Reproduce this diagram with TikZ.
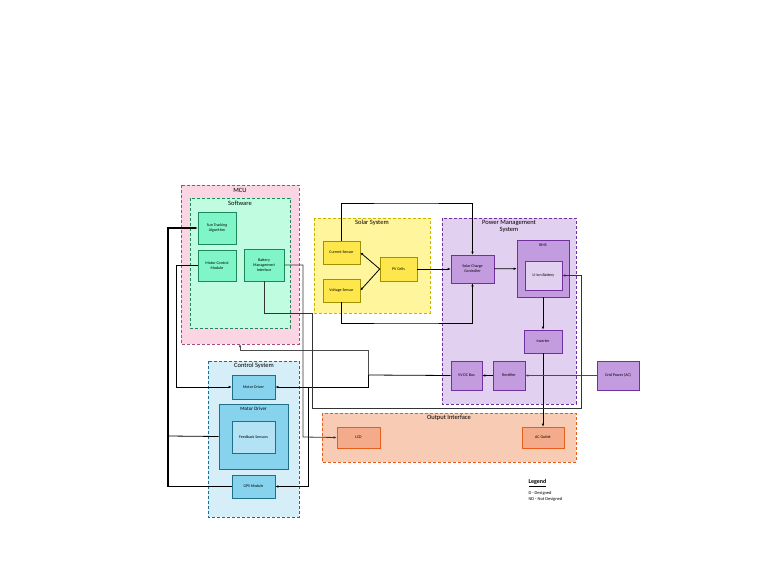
\documentclass[tikz,border=0pt]{standalone}
\usepackage{fontspec}
\setmainfont{Carlito}
\usetikzlibrary{arrows.meta}
\definecolor{mcufill}{HTML}{FCD5E5}\definecolor{mculine}{HTML}{A64D79}
\definecolor{swfill}{HTML}{C0FCE0}\definecolor{swline}{HTML}{1A8A5A}\definecolor{swnode}{HTML}{7FF5C8}
\definecolor{solfill}{HTML}{FFF59D}\definecolor{solline}{HTML}{C9B400}\definecolor{solnode}{HTML}{FDE74C}
\definecolor{pmfill}{HTML}{E1D0F0}\definecolor{pmline}{HTML}{7030A0}\definecolor{pmnode}{HTML}{C39BDF}
\definecolor{csfill}{HTML}{D6EEF8}\definecolor{csline}{HTML}{1F6F8B}\definecolor{csnode}{HTML}{87D3EE}\definecolor{csinner}{HTML}{B3E2F5}
\definecolor{oifill}{HTML}{F8CBB4}\definecolor{oiline}{HTML}{E85D1A}\definecolor{oinode}{HTML}{F4AB8B}
\tikzset{
  group/.style={draw=#1, densely dashed, line width=0.6pt},
  blk/.style={draw, line width=0.6pt, align=center, font=\fontsize{4}{5}\selectfont, inner sep=1pt},
  title/.style={font=\fontsize{6.5}{7.5}\selectfont, align=center},
  wire/.style={line width=0.8pt, -{Latex[length=3pt,width=2.5pt]}},
}
\begin{document}
\begin{tikzpicture}[x=1pt,y=-1pt]
\useasboundingbox (0,0) rectangle (768,588);
% groups
\draw[group=mculine, fill=mcufill] (181,185) rectangle (299,344);
\node[title] (mcut) at (240,190) {MCU};
\draw[group=swline, fill=swfill] (190,198) rectangle (290,328);
\node[title] (swt) at (240,203) {Software};
\draw[group=solline, fill=solfill] (314,218) rectangle (430,313);
\node[title] (solt) at (372,223) {Solar System};
\draw[group=pmline, fill=pmfill] (442,218) rectangle (576,404);
\node[title, font=\fontsize{6.5}{7}\selectfont] (pmt) at (509,226) {Power Management\\System};
\draw[group=csline, fill=csfill] (208,361) rectangle (299,517);
\node[title] (cst) at (254,366) {Control System};
\draw[group=oiline, fill=oifill] (322,413) rectangle (576,462);
\node[title] (oit) at (449,418) {Output Interface};
% software blocks
\node[blk, draw=swline, fill=swnode, minimum width=38, minimum height=32] (sun) at (217,228) {Sun Tracking\\Algorithm};
\node[blk, draw=swline, fill=swnode, minimum width=38, minimum height=31] (mcm) at (217,265.5) {Motor Control\\Module};
\node[blk, draw=swline, fill=swnode, minimum width=40, minimum height=32] (bmi) at (264,265) {Battery\\Management\\Interface};
% solar blocks
\node[blk, draw=solline!80!black, fill=solnode, minimum width=37, minimum height=23] (cur) at (341.5,252.5) {Current Sensor};
\node[blk, draw=solline!80!black, fill=solnode, minimum width=37, minimum height=23] (vol) at (341.5,290.5) {Voltage Sensor};
\node[blk, draw=solline!80!black, fill=solnode, minimum width=37, minimum height=24] (pv) at (398.5,269) {PV Cells};
% power management
\node[blk, draw=pmline, fill=pmnode, minimum width=43, minimum height=28] (scc) at (472.5,269) {Solar Charge\\Controller};
\node[blk, draw=pmline, fill=pmnode, minimum width=52, minimum height=57] (bms) at (543,268.5) {};
\node[font=\fontsize{4}{5}\selectfont] (bmst) at (543,245) {BMS};
\node[blk, draw=pmline, fill=pmfill, minimum width=37, minimum height=29] (lib) at (543.5,275.5) {Li-ion Battery};
\node[blk, draw=pmline, fill=pmnode, minimum width=38, minimum height=23] (inv) at (543,341.5) {Inverter};
\node[blk, draw=pmline, fill=pmnode, minimum width=31, minimum height=29] (dc) at (466.5,375.5) {5V DC Bus};
\node[blk, draw=pmline, fill=pmnode, minimum width=32, minimum height=29] (rec) at (509,375.5) {Rectifier};
\node[blk, draw=pmline, fill=pmnode, minimum width=42, minimum height=29] (grid) at (618,375.5) {Grid Power (AC)};
% control system
\node[blk, draw=csline, fill=csnode, minimum width=43, minimum height=24] (md) at (253.5,387) {Motor Driver};
\node[blk, draw=csline, fill=csnode, minimum width=69, minimum height=65] (mdb) at (253.5,436.5) {};
\node[font=\fontsize{5}{6}\selectfont] (mdbt) at (253.5,409) {Motor Driver};
\node[blk, draw=csline, fill=csinner, minimum width=43, minimum height=32] (fb) at (253.5,437) {Feedback Sensors};
\node[blk, draw=csline, fill=csnode, minimum width=43, minimum height=23] (gps) at (253.5,486.5) {GPS Module};
% output
\node[blk, draw=oiline, fill=oinode, minimum width=43, minimum height=21] (lcd) at (358.5,437.5) {LCD};
\node[blk, draw=oiline, fill=oinode, minimum width=42, minimum height=21] (aco) at (543,437.5) {AC Outlet};
% legend
\node[font=\fontsize{6}{7}\selectfont\bfseries, anchor=west] (leg) at (525,483) {\underline{Legend}};
\node[font=\fontsize{4.5}{5}\selectfont, anchor=west, align=left] (legd) at (525,496) {D - Designed\\[1pt]ND - Not Designed};
% connectors
\draw[wire] (pv.west) -- (cur.east);
\draw[wire] (pv.west) -- (vol.east);
\draw[wire] (pv) -- (scc);
\draw[wire] (cur.north) |- (406,203) -| (scc.north);
\draw[wire] (vol.south) |- (406,323) -| (scc.south);
\draw[wire] (scc) -- (bms);
\draw[wire] (bms.south) -- (inv.north);
\draw[wire] (inv.south) -- (aco.north);
\draw[wire, draw=black!70] (grid) -- (rec);
\draw[wire] (rec) -- (dc);
\coordinate (split) at (368,375);
\draw[line width=0.8pt] (dc.west) -- (split);
\draw[wire, draw=black!70] (split) |- (240,350) -- (mcut |- 344,344);
\draw[wire] (split) |- (md.east);
\draw[wire] (308,387) |- (gps.east);
\draw[wire, draw=black!80] (bmi.east) -| (303,437) -- (lcd.west);
\draw[wire, draw=black!80] (bmi.south) |- (312,313) |- (581,408) |- (lib.east);
\draw[wire] (mcm.west) -| (176,387) -- (md.west);
\draw[wire, line width=1.2pt] (gps.west) -| (168,228) -- (sun.west);
\draw[line width=0.8pt] (mdb.west) -- (168,436);
\end{tikzpicture}
\end{document}
